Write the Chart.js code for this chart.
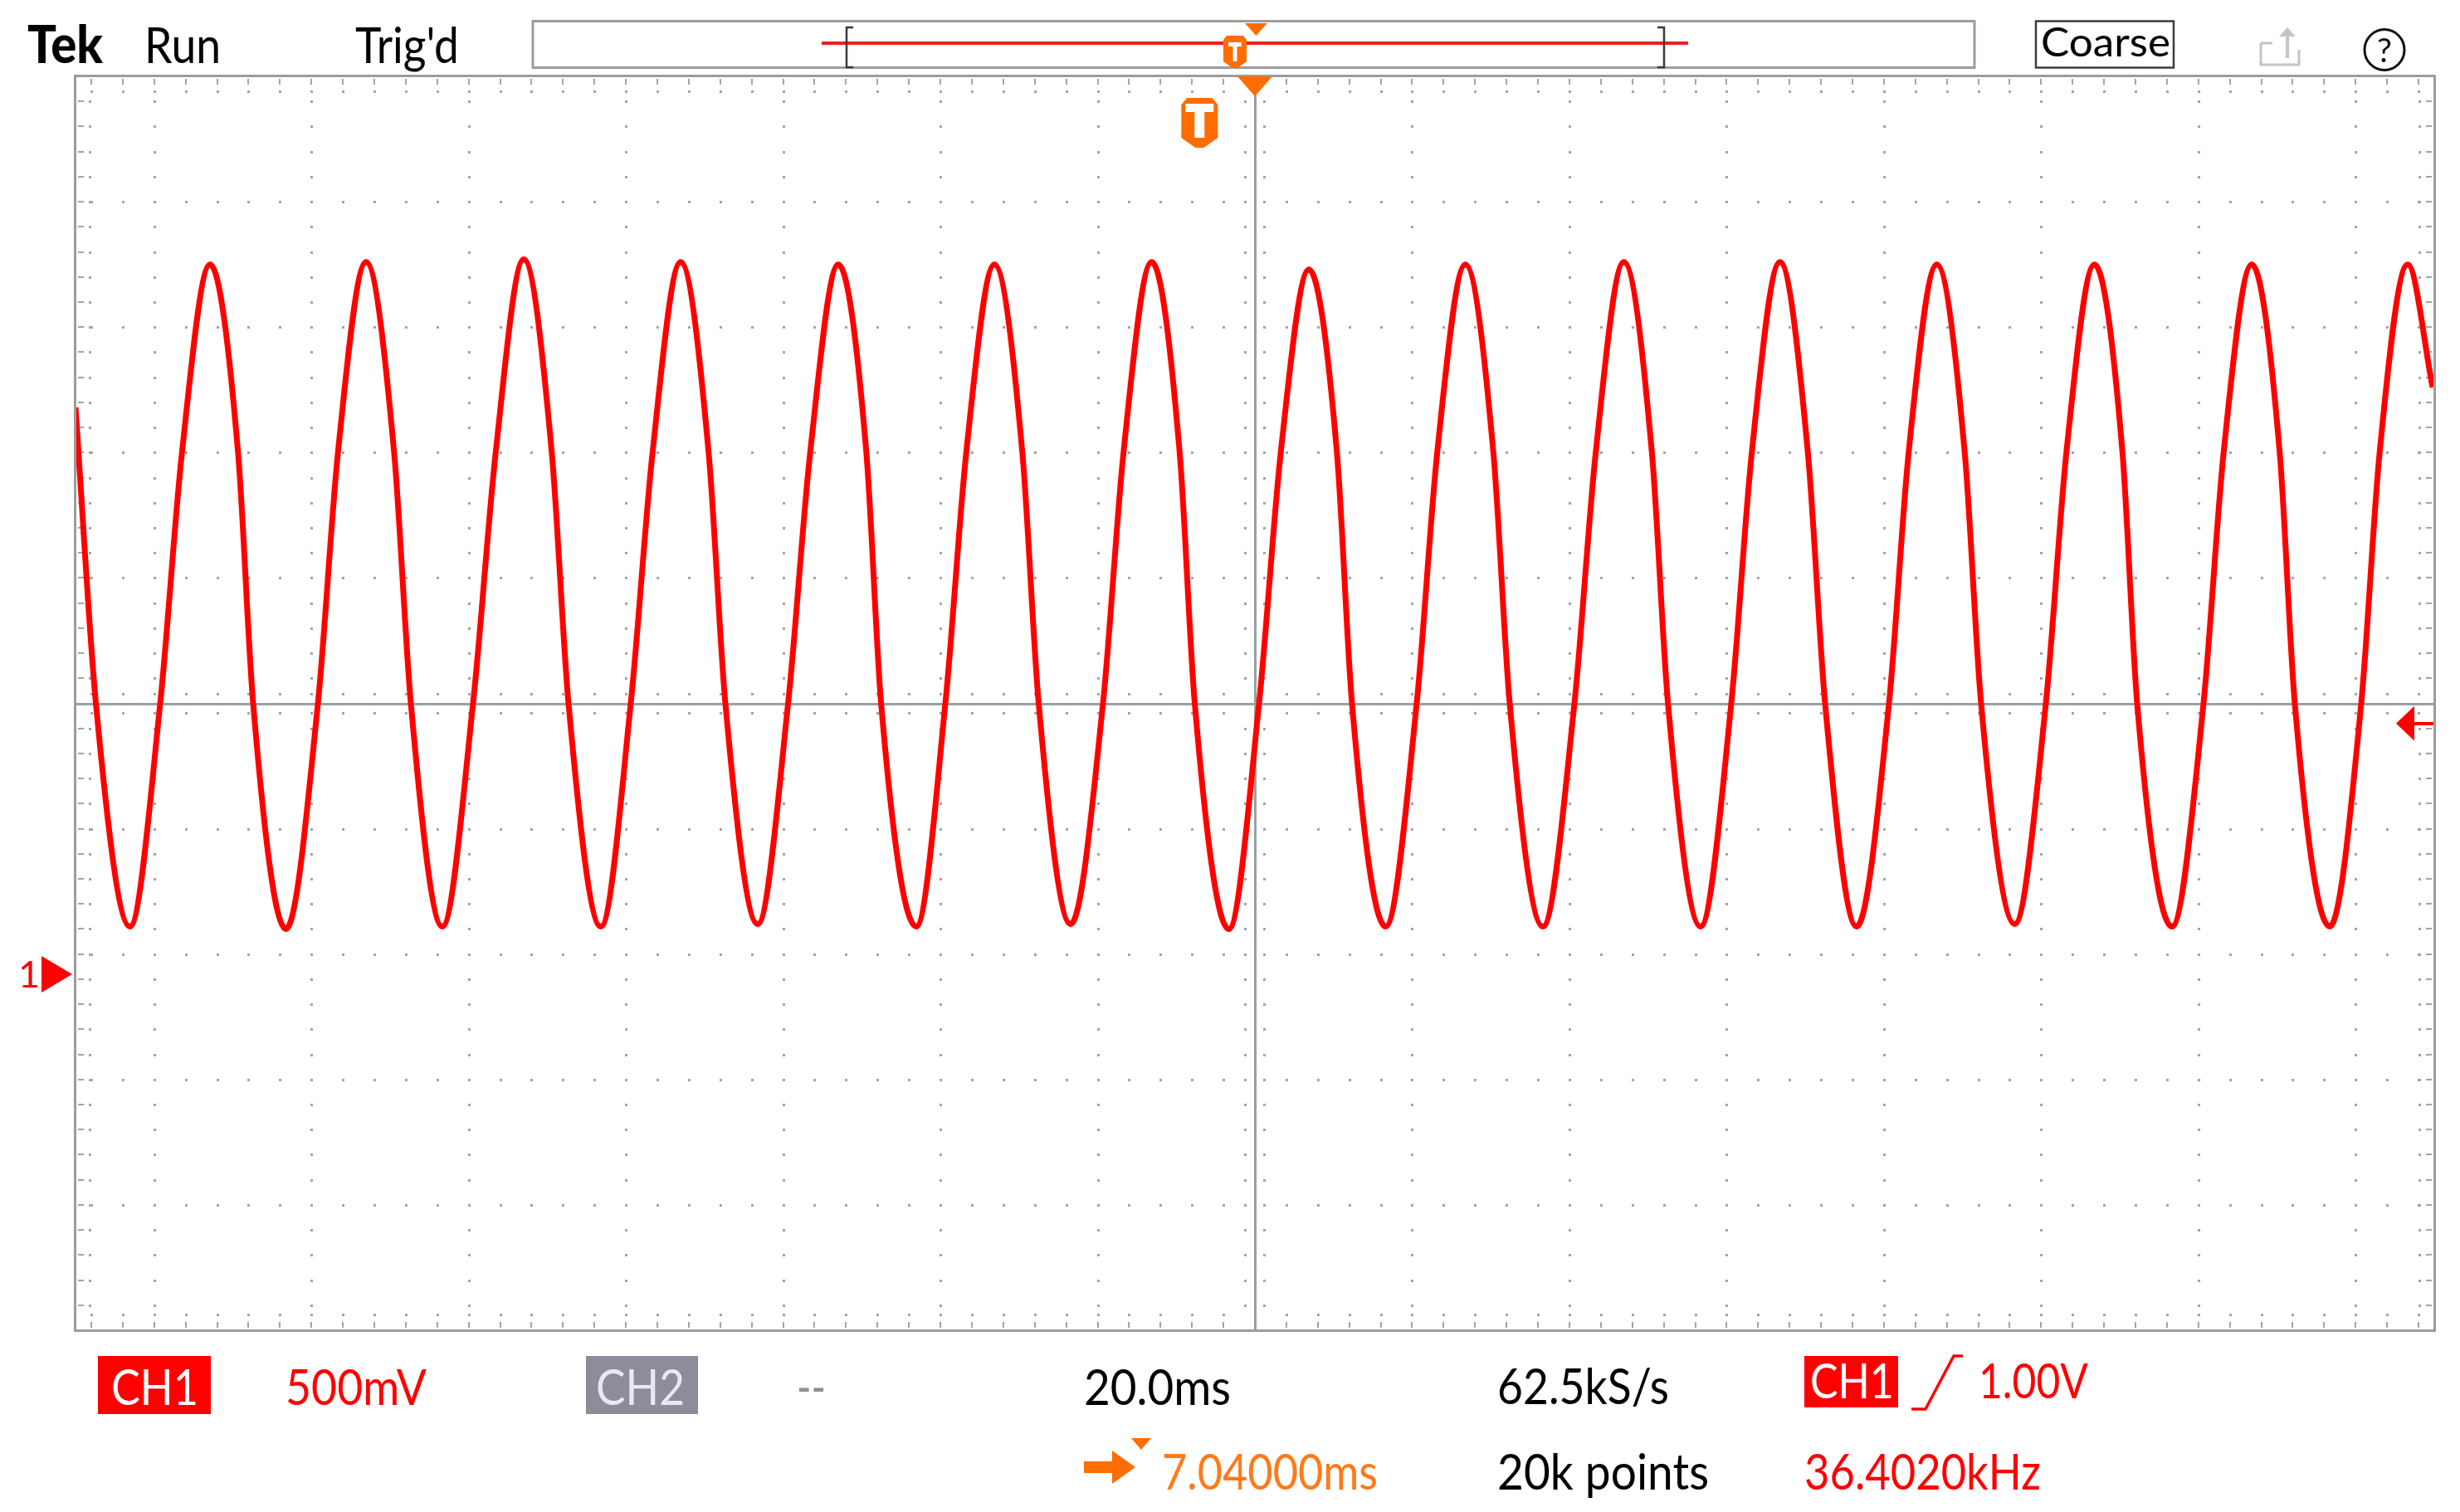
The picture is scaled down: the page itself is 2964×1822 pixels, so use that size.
<!DOCTYPE html>
<html>
<head>
<meta charset="utf-8">
<script src="https://cdn.jsdelivr.net/npm/chart.js@4.4.1/dist/chart.umd.min.js"></script>
<style>
  html, body { margin: 0; padding: 0; background: #ffffff; width: 2964px; height: 1822px; overflow: hidden; }
  #wrap { position: relative; width: 2964px; height: 1822px; }
  #scope { position: absolute; left: 0; top: 0; }
  #ov { position: absolute; left: 0; top: 0; pointer-events: none; }
  #ov text { font-family: Lato, "Open Sans", "Noto Sans", sans-serif; }
</style>
</head>
<body>
<div id="wrap">
  <canvas id="scope" width="2964" height="1822"></canvas>
  <svg id="ov" width="2964" height="1822" viewBox="0 0 2964 1822" xmlns="http://www.w3.org/2000/svg">
    <!-- header -->
    <text x="33" y="76" font-size="62" font-weight="900" fill="#000" textLength="91" lengthAdjust="spacingAndGlyphs">Tek</text>
    <text x="174" y="76" font-size="60" fill="#000" textLength="92" lengthAdjust="spacingAndGlyphs">Run</text>
    <text x="428" y="76" font-size="60" fill="#000" textLength="125" lengthAdjust="spacingAndGlyphs">Trig'd</text>
    <rect x="642" y="25.5" width="1737" height="56" fill="#fff" stroke="#9c9c9c" stroke-width="3"/>
    <line x1="990" y1="52" x2="2034" y2="52" stroke="#f01e1e" stroke-width="4"/>
    <path d="M1028,33 L1020,33 L1020,81 L1028,81" fill="none" stroke="#3a3a3a" stroke-width="2.5"/>
    <path d="M1997,33 L2005,33 L2005,81 L1997,81" fill="none" stroke="#3a3a3a" stroke-width="2.5"/>
    <polygon points="1500,28 1527,28 1513.5,43" fill="#ff6c00"/>
    <path d="M1478,43 L1498,43 L1502,48 L1502,74 L1491,82 L1485,82 L1474,74 L1474,48 Z" fill="#ff6c00"/>
    <path d="M1480,51 L1496,51 L1496,56 L1490.5,56 L1490.5,74 L1485.5,74 L1485.5,56 L1480,56 Z" fill="#fff"/>
    <rect x="2453" y="25.5" width="166" height="56" fill="#fff" stroke="#3c3c3c" stroke-width="2.5"/>
    <text x="2459" y="68" font-size="48" fill="#000" textLength="156" lengthAdjust="spacingAndGlyphs">Coarse</text>
    <path d="M2724,52 L2724,78 L2770,78 L2770,60" fill="none" stroke="#c4c4c4" stroke-width="3"/>
    <path d="M2724,52 L2738,52" fill="none" stroke="#c4c4c4" stroke-width="3"/>
    <path d="M2756,70 L2756,40" fill="none" stroke="#c4c4c4" stroke-width="4"/>
    <polygon points="2746,44 2766,44 2756,33" fill="#c4c4c4"/>
    <ellipse cx="2873" cy="60" rx="24" ry="24.5" fill="none" stroke="#111" stroke-width="3"/>
    <text x="2873" y="75" font-size="40" fill="#111" text-anchor="middle">?</text>

    <!-- footer row 1 -->
    <rect x="118" y="1634" width="136" height="70" fill="#ff0000"/>
    <text x="134" y="1693" font-size="60" fill="#ffffff" textLength="105" lengthAdjust="spacingAndGlyphs">CH1</text>
    <text x="344" y="1693" font-size="60" fill="#ff0000" textLength="170" lengthAdjust="spacingAndGlyphs">500mV</text>
    <rect x="706" y="1634" width="135" height="70" fill="#8c8c9a"/>
    <text x="718" y="1693" font-size="60" fill="#e8e8f0" textLength="107" lengthAdjust="spacingAndGlyphs">CH2</text>
    <text x="960" y="1693" font-size="60" fill="#8c8c9a" textLength="35" lengthAdjust="spacingAndGlyphs">--</text>
    <text x="1306" y="1693" font-size="60" fill="#000" textLength="177" lengthAdjust="spacingAndGlyphs">20.0ms</text>
    <text x="1804" y="1692" font-size="60" fill="#000" textLength="207" lengthAdjust="spacingAndGlyphs">62.5kS/s</text>
    <rect x="2174" y="1634" width="113" height="62" fill="#ff0000"/>
    <text x="2181" y="1685" font-size="58" fill="#ffffff" textLength="101" lengthAdjust="spacingAndGlyphs">CH1</text>
    <path d="M2303,1698 L2320,1698 L2354,1634 L2365,1634" fill="none" stroke="#ff0000" stroke-width="3.5"/>
    <text x="2384" y="1685" font-size="58" fill="#ff0000" textLength="132" lengthAdjust="spacingAndGlyphs">1.00V</text>

    <!-- footer row 2 -->
    <polygon points="1306,1761 1340,1761 1340,1748 1368,1768 1340,1788 1340,1775 1306,1775" fill="#ff6c00"/>
    <polygon points="1363,1733 1387,1733 1375,1747" fill="#ff6c00"/>
    <text x="1400" y="1795" font-size="60" fill="#ff7a1a" textLength="260" lengthAdjust="spacingAndGlyphs">7.04000ms</text>
    <text x="1804" y="1795" font-size="60" fill="#000" textLength="255" lengthAdjust="spacingAndGlyphs">20k points</text>
    <text x="2174" y="1795" font-size="60" fill="#ff0000" textLength="285" lengthAdjust="spacingAndGlyphs">36.4020kHz</text>

    <!-- channel 1 ground marker label (y set from the y scale) -->
    <text id="gndLabel" x="22" y="1189" font-size="45" fill="#ff0000">1</text>
  </svg>
</div>
<script>
// ---------- data ----------
// CH1 trace: time (ms, trigger at 0) and voltage (V)
const timeMs = [
  -142.96,
  -140.37, -136.04, -132.19, -129.42, -125.86, -122.29,
  -120.37, -116.20, -112.13, -109.58, -106.01, -102.44,
  -100.31,  -96.30,  -92.40,  -89.52,  -85.96,  -82.39,
   -80.26,  -76.14,  -72.34,  -69.57,  -66.00,  -62.44,
   -60.31,  -56.19,  -52.33,  -49.52,  -45.95,  -42.38,
   -40.50,  -36.03,  -32.33,  -29.67,  -26.10,  -22.54,
   -20.46,  -16.39,  -12.28,   -9.67,   -6.10,   -2.53,
    -0.61,    3.72,    7.57,   10.33,   13.90,   17.47,
    19.39,   23.67,   27.62,   30.23,   33.80,   37.37,
    39.45,   43.67,   47.68,   50.39,   53.96,   57.53,
    59.58,   63.73,   67.63,   70.24,   73.81,   77.37,
    79.56,   83.57,   87.69,   90.19,   93.76,   97.32,
    99.40,  103.68,  107.64,  110.25,  113.81,  117.38,
   119.25,  123.68,  127.69,  130.25,  133.82,  137.38,
   139.30,  143.74,  147.75,  150.09,  153.66,  156.83
];
const ch1Volts = [
  2.26,
  1.08, 0.19, 1.08, 2.08, 2.83, 2.08,
  1.08, 0.18, 1.08, 2.08, 2.84, 2.08,
  1.08, 0.19, 1.08, 2.08, 2.85, 2.08,
  1.08, 0.19, 1.08, 2.08, 2.84, 2.08,
  1.08, 0.20, 1.08, 2.08, 2.83, 2.08,
  1.08, 0.19, 1.08, 2.08, 2.83, 2.08,
  1.08, 0.20, 1.08, 2.08, 2.84, 2.08,
  1.08, 0.18, 1.08, 2.08, 2.81, 2.08,
  1.08, 0.19, 1.08, 2.08, 2.83, 2.08,
  1.08, 0.19, 1.08, 2.08, 2.84, 2.08,
  1.08, 0.19, 1.08, 2.08, 2.84, 2.08,
  1.08, 0.19, 1.08, 2.08, 2.83, 2.08,
  1.08, 0.20, 1.08, 2.08, 2.83, 2.08,
  1.08, 0.19, 1.08, 2.08, 2.83, 2.08,
  1.08, 0.19, 1.08, 2.08, 2.83, 2.34
];
// graticule: 15 horizontal x 10 vertical divisions (20 ms/div, 500 mV/div)
const xTicksMs = [-132.96, -112.96, -92.96, -72.96, -52.96, -32.96, -12.96, 7.04,
                  27.04, 47.04, 67.04, 87.04, 107.04, 127.04, 147.04];
const yTicksV  = [-0.92, -0.42, 0.08, 0.58, 1.08, 1.58, 2.08, 2.58, 3.08];
const xRangeMs = [-142.96, 157.04];
const yRangeV  = [-1.42, 3.58];
const xCenterMs = 7.04;    // horizontal position (center graticule)
const yCenterV  = 1.08;    // center graticule in CH1 volts
const xMinorMs  = 4;       // 5 minor ticks per division
const yMinorV   = 0.1;
const triggerTimeMs = 0;
const triggerLevelV = 1.00;
const groundV = 0;

// ---------- drawing ----------
const GRID = '#a4a4a4';
const AXIS = '#97a2a2';
const FRAME = '#9c9c9c';
const RED = '#ff0000';
const ORANGE = '#ff6c00';

function minorPixels(scale, center, step, range) {
  const out = [];
  const n = Math.round((range[1] - center) / step);
  for (let j = -n + 1; j < n; j++) out.push(Math.round(scale.getPixelForValue(center + j * step)));
  return out;
}

const tekGraticule = {
  id: 'tekGraticule',
  beforeDatasetsDraw(chart) {
    const { ctx, chartArea: a, scales: { x, y } } = chart;
    const cx = Math.round(x.getPixelForValue(xCenterMs));
    const cy = Math.round(y.getPixelForValue(yCenterV));
    const xm = minorPixels(x, xCenterMs, xMinorMs, xRangeMs);
    const ym = minorPixels(y, yCenterV, yMinorV, yRangeV);
    const L = Math.round(a.left), R = Math.round(a.right), T = Math.round(a.top), B = Math.round(a.bottom);
    ctx.save();
    ctx.fillStyle = GRID;
    // dotted major lines
    for (const v of xTicksMs) {
      if (v === xCenterMs) continue;
      const px = Math.round(x.getPixelForValue(v));
      for (const py of ym) ctx.fillRect(px - 1, py - 1, 3, 3);
    }
    for (const v of yTicksV) {
      if (v === yCenterV) continue;
      const py = Math.round(y.getPixelForValue(v));
      for (const px of xm) ctx.fillRect(px - 1, py - 1, 3, 3);
    }
    // border ticks
    for (const px of xm) {
      ctx.fillRect(px - 1, T + 3, 2, 7);
      ctx.fillRect(px - 1, T + 17, 3, 3);
      ctx.fillRect(px - 1, B - 10, 2, 7);
      ctx.fillRect(px - 1, B - 20, 3, 3);
    }
    for (const py of ym) {
      ctx.fillRect(L + 3, py - 1, 7, 2);
      ctx.fillRect(L + 16, py - 1, 3, 3);
      ctx.fillRect(R - 10, py - 1, 7, 2);
      ctx.fillRect(R - 19, py - 1, 3, 3);
    }
    // center axes with cross ticks
    for (const px of xm) {
      ctx.fillRect(px - 1, cy - 13, 3, 3);
      ctx.fillRect(px - 1, cy + 10, 3, 3);
    }
    for (const py of ym) {
      ctx.fillRect(cx - 13, py - 1, 3, 3);
      ctx.fillRect(cx + 10, py - 1, 3, 3);
    }
    ctx.fillStyle = AXIS;
    ctx.fillRect(L, cy - 1, R - L, 3);
    ctx.fillRect(cx - 1, T, 3, B - T);
    ctx.restore();
  },
  afterDatasetsDraw(chart) {
    const { ctx, chartArea: a, scales: { x, y } } = chart;
    const L = Math.round(a.left), R = Math.round(a.right), T = Math.round(a.top), B = Math.round(a.bottom);
    const cx = Math.round(x.getPixelForValue(xCenterMs));
    ctx.save();
    // frame
    ctx.fillStyle = FRAME;
    ctx.fillRect(L - 2, T - 2, R - L + 4, 3);
    ctx.fillRect(L - 2, B - 1, R - L + 4, 3);
    ctx.fillRect(L - 2, T - 2, 3, B - T + 4);
    ctx.fillRect(R - 1, T - 2, 3, B - T + 4);
    // ground marker for CH1
    const gy = y.getPixelForValue(groundV);
    ctx.fillStyle = RED;
    ctx.beginPath();
    ctx.moveTo(L - 4, gy); ctx.lineTo(L - 41, gy - 22); ctx.lineTo(L - 41, gy + 22); ctx.closePath(); ctx.fill();
    // trigger level arrow
    const ty = y.getPixelForValue(triggerLevelV);
    ctx.beginPath();
    ctx.moveTo(R - 46, ty); ctx.lineTo(R - 24, ty - 21); ctx.lineTo(R - 24, ty + 21); ctx.closePath(); ctx.fill();
    ctx.fillRect(R - 26, Math.round(ty) - 2, 25, 4);
    // horizontal position marker on top border
    ctx.fillStyle = ORANGE;
    ctx.beginPath();
    ctx.moveTo(cx - 21, T); ctx.lineTo(cx + 21, T); ctx.lineTo(cx, T + 24); ctx.closePath(); ctx.fill();
    // trigger position T marker
    const tx = x.getPixelForValue(triggerTimeMs);
    const t0 = T + 26, t1 = T + 86;
    ctx.beginPath();
    ctx.moveTo(tx - 22, t0 + 8); ctx.lineTo(tx - 15, t0); ctx.lineTo(tx + 15, t0); ctx.lineTo(tx + 22, t0 + 8);
    ctx.lineTo(tx + 22, t1 - 12); ctx.lineTo(tx + 5, t1); ctx.lineTo(tx - 5, t1); ctx.lineTo(tx - 22, t1 - 12);
    ctx.closePath(); ctx.fill();
    ctx.fillStyle = '#ffffff';
    ctx.fillRect(tx - 17, t0 + 7, 34, 10);
    ctx.fillRect(tx - 6, t0 + 7, 12, 41);
    ctx.restore();
    const lab = document.getElementById('gndLabel');
    if (lab) lab.setAttribute('y', String(Math.round(gy + 16)));
  }
};

const points = timeMs.map((t, i) => ({ x: t, y: ch1Volts[i] }));

new Chart(document.getElementById('scope'), {
  type: 'line',
  data: {
    datasets: [{
      label: 'CH1',
      data: points,
      borderColor: RED,
      borderWidth: 7,
      pointRadius: 0,
      fill: false,
      cubicInterpolationMode: 'monotone',
      borderJoinStyle: 'round'
    }]
  },
  options: {
    responsive: false,
    animation: false,
    devicePixelRatio: 1,
    layout: { padding: { left: 91, right: 31, top: 92, bottom: 219 } },
    plugins: { legend: { display: false }, tooltip: { enabled: false } },
    scales: {
      x: { type: 'linear', min: xRangeMs[0], max: xRangeMs[1], display: false },
      y: { type: 'linear', min: yRangeV[0], max: yRangeV[1], display: false }
    }
  },
  plugins: [tekGraticule]
});
</script>
</body>
</html>
